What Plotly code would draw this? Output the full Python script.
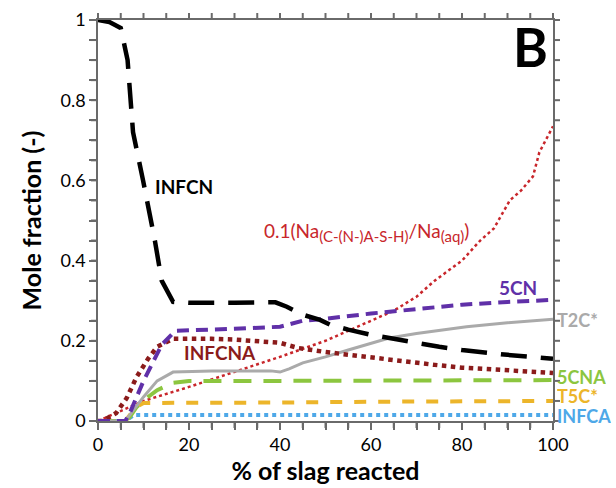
import plotly.graph_objects as go

# ---- data ----
infcn_x = [0, 2.5, 5, 6.5, 7.7, 8.5, 9.9, 12.5, 14, 16.5, 20, 30, 39, 41.5, 45, 48.8, 51, 55, 60, 65, 70, 75, 80, 85, 90, 95, 100]
infcn_y = [1.0, 0.995, 0.98, 0.9, 0.72, 0.68, 0.6, 0.45, 0.35, 0.297, 0.295, 0.295, 0.296, 0.285, 0.265, 0.252, 0.24, 0.228, 0.215, 0.205, 0.194, 0.185, 0.177, 0.17, 0.165, 0.16, 0.155]

cn5_x = [0, 6, 7, 10, 14, 17, 30, 40, 45, 50, 60, 70, 80, 90, 100]
cn5_y = [0, 0, 0.02, 0.1, 0.19, 0.225, 0.23, 0.235, 0.25, 0.255, 0.268, 0.28, 0.29, 0.297, 0.302]

t2c_x = [0, 6, 8, 10, 13, 16.5, 25, 38, 40, 42, 45, 50, 55, 64, 70, 81, 90, 100]
t2c_y = [0, 0, 0.03, 0.06, 0.1, 0.122, 0.125, 0.125, 0.122, 0.13, 0.145, 0.16, 0.177, 0.207, 0.218, 0.235, 0.245, 0.254]

infcna_x = [0, 1, 4, 6.3, 8.5, 11, 13, 16.5, 25, 30, 40, 44, 50, 59, 65, 74, 80, 90, 100]
infcna_y = [0, 0, 0.02, 0.057, 0.11, 0.155, 0.185, 0.205, 0.205, 0.203, 0.195, 0.182, 0.172, 0.16, 0.15, 0.14, 0.133, 0.126, 0.12]

ratio_x = [0, 5, 10, 20, 30, 40, 50, 55, 60, 65, 70, 74, 80, 84, 87, 90.5, 93, 95.6, 97, 100]
ratio_y = [0, 0.025, 0.05, 0.085, 0.122, 0.16, 0.2, 0.225, 0.25, 0.275, 0.31, 0.35, 0.4, 0.45, 0.48, 0.55, 0.575, 0.61, 0.67, 0.735]

cna5_x = [0, 6, 7, 8.5, 11, 13, 16.5, 20, 40, 60, 80, 100]
cna5_y = [0, 0, 0.01, 0.035, 0.06, 0.077, 0.095, 0.1, 0.1, 0.101, 0.102, 0.102]

t5c_x = [0, 6, 7, 8.5, 10, 20, 40, 60, 80, 100]
t5c_y = [0, 0, 0.015, 0.035, 0.045, 0.045, 0.046, 0.048, 0.049, 0.05]

infca_x = [0, 6, 7, 8, 20, 40, 60, 80, 100]
infca_y = [0, 0, 0.008, 0.015, 0.015, 0.015, 0.015, 0.015, 0.015]

# axis ranges, tick positions and labels (labels only on the major ones)
x_range = [0, 100]
y_range = [0, 1]
x_ticks = [0, 5, 10, 15, 20, 25, 30, 35, 40, 45, 50, 55, 60, 65, 70, 75, 80, 85, 90, 95, 100]
x_tick_labels = ["0", "", "", "", "20", "", "", "", "40", "", "", "", "60", "", "", "", "80", "", "", "", "100"]
y_ticks = [0, 0.05, 0.1, 0.15, 0.2, 0.25, 0.3, 0.35, 0.4, 0.45, 0.5, 0.55, 0.6, 0.65, 0.7, 0.75, 0.8, 0.85, 0.9, 0.95, 1]
y_tick_labels = ["0", "", "", "", "0.2", "", "", "", "0.4", "", "", "", "0.6", "", "", "", "0.8", "", "", "", "1"]

FONT = "Lato"
AXC = "#6a6a6a"
TL = 7  # tick length in px

series = [
    (ratio_x, ratio_y, "#c8262b", "dot", 2.5, "ratio"),
    (infca_x, infca_y, "#4ea8e8", "dot", 4, "INFCA"),
    (t5c_x, t5c_y, "#ecb52a", "dash", 4, "T5C*"),
    (cna5_x, cna5_y, "#8cc63f", "18px,12px", 4, "5CNA"),
    (t2c_x, t2c_y, "#aaaaaa", "solid", 3, "T2C*"),
    (infcna_x, infcna_y, "#8b1b1b", "dot", 4.5, "INFCNA"),
    (cn5_x, cn5_y, "#6030a8", "12px,7px", 4, "5CN"),
    (infcn_x, infcn_y, "#000000", "26px,14px", 4.5, "INFCN"),
]

fig = go.Figure()
for xs, ys, col, dash, w, name in series:
    fig.add_trace(go.Scatter(x=xs, y=ys, mode="lines", name=name,
                             line=dict(color=col, dash=dash, width=w),
                             showlegend=False))

axis_common = dict(
    showline=True, linecolor=AXC, linewidth=1.5, mirror=True,
    ticks="outside", ticklen=TL, tickcolor=AXC, tickwidth=2,
    showgrid=False, zeroline=False, automargin=False,
    tickfont=dict(family=FONT, size=18, color="black"),
)
fig.update_xaxes(range=x_range, tickmode="array", tickvals=x_ticks, ticktext=x_tick_labels,
                 title=dict(text="<b>% of slag reacted</b>", font=dict(family=FONT, size=25, color="black"), standoff=2),
                 **axis_common)
fig.update_yaxes(range=y_range, tickmode="array", tickvals=y_ticks, ticktext=y_tick_labels,
                 title=dict(text="<b>Mole fraction (-)</b>", font=dict(family=FONT, size=25, color="black"), standoff=12),
                 **axis_common)

# tick marks on all four sides: paper-referenced (unclipped) pixel-length shapes at the tick values
def frac(v, r):
    return (v - r[0]) / (r[1] - r[0])

tick_line = dict(color=AXC, width=2)
for v in x_ticks:
    fx = frac(v, x_range)
    fig.add_shape(type="line", xref="paper", yref="paper", x0=fx, x1=fx,
                  ysizemode="pixel", yanchor=0, y0=0, y1=-TL, line=tick_line, layer="above")
    fig.add_shape(type="line", xref="paper", yref="paper", x0=fx, x1=fx,
                  ysizemode="pixel", yanchor=1, y0=0, y1=TL, line=tick_line, layer="above")
for v in y_ticks:
    fy = frac(v, y_range)
    fig.add_shape(type="line", xref="paper", yref="paper", y0=fy, y1=fy,
                  xsizemode="pixel", xanchor=0, x0=0, x1=-TL, line=tick_line, layer="above")
    fig.add_shape(type="line", xref="paper", yref="paper", y0=fy, y1=fy,
                  xsizemode="pixel", xanchor=1, x0=0, x1=TL, line=tick_line, layer="above")

def ann(text, x, y, color, size=19, bold=True, xanchor="center", ref="data", height=None):
    xr = "x" if ref == "data" else "paper"
    kw = {}
    if height is not None:
        kw["height"] = height
    fig.add_annotation(x=x, y=y, xref=xr, yref="y", text=("<b>%s</b>" % text) if bold else text,
                       showarrow=False, xanchor=xanchor, yanchor="middle",
                       font=dict(family=FONT, size=size, color=color), **kw)

ann("INFCN", 18.8, 0.586, "#000000")
ann("0.1(Na<sub><span style='font-size:15px'>(C-(N-)A-S-H)</span></sub>/Na<sub><span style='font-size:15px'>(aq)</span></sub>)",
    36, 0.471, "#c8262b", size=19, bold=False, xanchor="left")
ann("5CN", 92.2, 0.332, "#6030a8")
ann("INFCNA", 26.8, 0.17, "#8b1b1b")
ann("T2C*", 1.004, 0.252, "#aaaaaa", size=18, xanchor="left", ref="paper", height=18)
ann("5CNA", 1.004, 0.11, "#8cc63f", size=18, xanchor="left", ref="paper", height=18)
ann("T5C*", 1.004, 0.062, "#ecb52a", size=18, xanchor="left", ref="paper", height=18)
ann("INFCA", 1.004, 0.012, "#4ea8e8", size=18, xanchor="left", ref="paper", height=18)
ann("B", 95, 0.935, "#000000", size=53)

fig.update_layout(
    width=616, height=488,
    margin=dict(l=98, r=63, t=20, b=67),
    plot_bgcolor="white", paper_bgcolor="white",
)

fig.write_html("out.html", config={"displayModeBar": False},
               post_script="document.body.style.margin='0px';")
